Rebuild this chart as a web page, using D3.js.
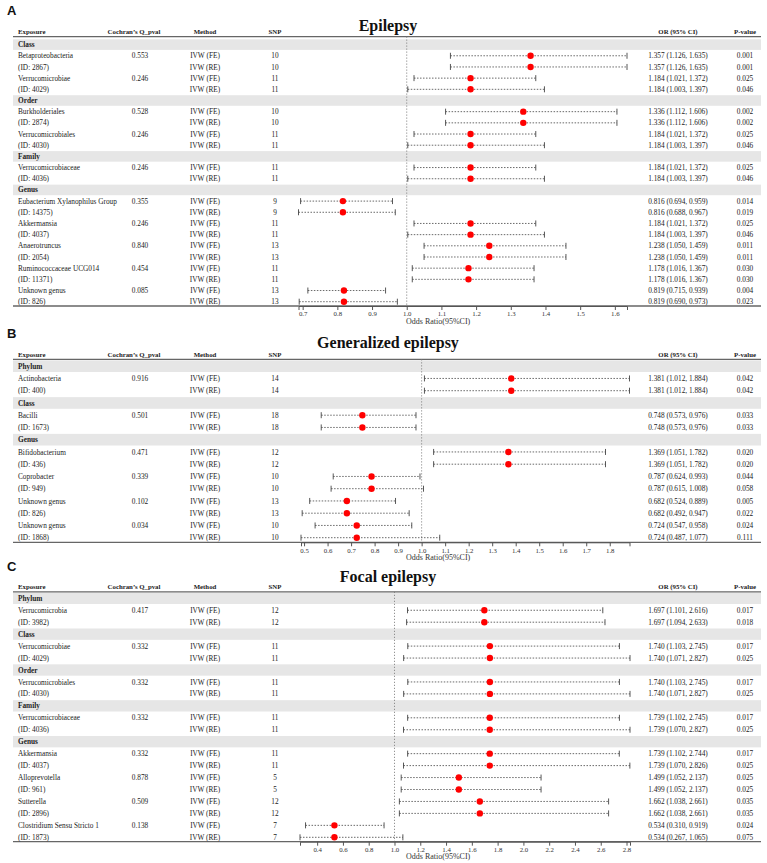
<!DOCTYPE html>
<html><head><meta charset="utf-8">
<script src="https://cdn.jsdelivr.net/npm/d3@7"></script>
<style>body{margin:0;background:#fff}svg{display:block}</style>
</head><body>
<svg id="chart" width="767" height="863"></svg>
<script>
// ---------- Panel A: Epilepsy ----------
const aGroups = ["Class","Class","Order","Order","Family","Genus","Genus","Genus","Genus","Genus"];
const aExposure = ["Betaproteobacteria","Verrucomicrobiae","Burkholderiales","Verrucomicrobiales","Verrucomicrobiaceae","Eubacterium Xylanophilus Group","Akkermansia","Anaerotruncus","Ruminococcaceae UCG014","Unknown genus"];
const aIds = [2867,4029,2874,4030,4036,14375,4037,2054,11371,826];
const aQ = [0.553,0.246,0.528,0.246,0.246,0.355,0.246,0.840,0.454,0.085];
const aSnp = [10,11,10,11,11,9,11,13,11,13];
const aOrFE = [1.357,1.184,1.336,1.184,1.184,0.816,1.184,1.238,1.178,0.819];
const aLoFE = [1.126,1.021,1.112,1.021,1.021,0.694,1.021,1.050,1.016,0.715];
const aHiFE = [1.635,1.372,1.606,1.372,1.372,0.959,1.372,1.459,1.367,0.939];
const aPFE  = [0.001,0.025,0.002,0.025,0.025,0.014,0.025,0.011,0.030,0.004];
const aOrRE = [1.357,1.184,1.336,1.184,1.184,0.816,1.184,1.238,1.178,0.819];
const aLoRE = [1.126,1.003,1.112,1.003,1.003,0.688,1.003,1.050,1.016,0.690];
const aHiRE = [1.635,1.397,1.606,1.397,1.397,0.967,1.397,1.459,1.367,0.973];
const aPRE  = [0.001,0.046,0.002,0.046,0.046,0.019,0.046,0.011,0.030,0.023];
const aTicks = [0.7,0.8,0.9,1.0,1.1,1.2,1.3,1.4,1.5,1.6];

// ---------- Panel B: Generalized epilepsy ----------
const bGroups = ["Phylum","Class","Genus","Genus","Genus","Genus"];
const bExposure = ["Actinobacteria","Bacilli","Bifidobacterium","Coprobacter","Unknown genus","Unknown genus"];
const bIds = [400,1673,436,949,826,1868];
const bQ = [0.916,0.501,0.471,0.339,0.102,0.034];
const bSnp = [14,18,12,10,13,10];
const bOrFE = [1.381,0.748,1.369,0.787,0.682,0.724];
const bLoFE = [1.012,0.573,1.051,0.624,0.524,0.547];
const bHiFE = [1.884,0.976,1.782,0.993,0.889,0.958];
const bPFE  = [0.042,0.033,0.020,0.044,0.005,0.024];
const bOrRE = [1.381,0.748,1.369,0.787,0.682,0.724];
const bLoRE = [1.012,0.573,1.051,0.615,0.492,0.487];
const bHiRE = [1.884,0.976,1.782,1.008,0.947,1.077];
const bPRE  = [0.042,0.033,0.020,0.058,0.022,0.111];
const bTicks = [0.5,0.6,0.7,0.8,0.9,1.0,1.1,1.2,1.3,1.4,1.5,1.6,1.7,1.8];

// ---------- Panel C: Focal epilepsy ----------
const cGroups = ["Phylum","Class","Order","Family","Genus","Genus","Genus","Genus"];
const cExposure = ["Verrucomicrobia","Verrucomicrobiae","Verrucomicrobiales","Verrucomicrobiaceae","Akkermansia","Alloprevotella","Sutterella","Clostridium Sensu Stricto 1"];
const cIds = [3982,4029,4030,4036,4037,961,2896,1873];
const cQ = [0.417,0.332,0.332,0.332,0.332,0.878,0.509,0.138];
const cSnp = [12,11,11,11,11,5,12,7];
const cOrFE = [1.697,1.740,1.740,1.739,1.739,1.499,1.662,0.534];
const cLoFE = [1.101,1.103,1.103,1.102,1.102,1.052,1.038,0.310];
const cHiFE = [2.616,2.745,2.745,2.745,2.744,2.137,2.661,0.919];
const cPFE  = [0.017,0.017,0.017,0.017,0.017,0.025,0.035,0.024];
const cOrRE = [1.697,1.740,1.740,1.739,1.739,1.499,1.662,0.534];
const cLoRE = [1.094,1.071,1.071,1.070,1.070,1.052,1.038,0.267];
const cHiRE = [2.633,2.827,2.827,2.827,2.826,2.137,2.661,1.065];
const cPRE  = [0.018,0.025,0.025,0.025,0.025,0.025,0.035,0.075];
const cTicks = [0.4,0.6,0.8,1.0,1.2,1.4,1.6,1.8,2.0,2.2,2.4,2.6,2.8];

const headers = ["Exposure","Cochran\u2019s Q_pval","Method","SNP","OR (95% CI)","P-value"];

function buildRows(groups, expo, ids, q, snp, orFE, loFE, hiFE, pFE, orRE, loRE, hiRE, pRE){
  const rows = [];
  let last = null;
  groups.forEach((g,i)=>{
    if(g!==last){ rows.push({header:true, label:g}); last=g; }
    rows.push({name:expo[i], q:q[i], method:"IVW (FE)", snp:snp[i], or:orFE[i], lo:loFE[i], hi:hiFE[i], p:pFE[i]});
    rows.push({name:"(ID: "+ids[i]+")", q:null, method:"IVW (RE)", snp:snp[i], or:orRE[i], lo:loRE[i], hi:hiRE[i], p:pRE[i]});
  });
  return rows;
}

const panels = [
  {letter:"A", title:"Epilepsy", ticks:aTicks, range:[298.5,627],
   rows:buildRows(aGroups,aExposure,aIds,aQ,aSnp,aOrFE,aLoFE,aHiFE,aPFE,aOrRE,aLoRE,aHiRE,aPRE),
   letterY:15, titleY:31, headerY:34.3, lineY:36.6, first:44.6, last:301.7, bottom:306},
  {letter:"B", title:"Generalized epilepsy", ticks:bTicks, range:[301,629.5],
   rows:buildRows(bGroups,bExposure,bIds,bQ,bSnp,bOrFE,bLoFE,bHiFE,bPFE,bOrRE,bLoRE,bHiRE,bPRE),
   letterY:338, titleY:348, headerY:356.8, lineY:359.4, first:366.2, last:537.7, bottom:542.3},
  {letter:"C", title:"Focal epilepsy", ticks:cTicks, range:[300,630],
   rows:buildRows(cGroups,cExposure,cIds,cQ,cSnp,cOrFE,cLoFE,cHiFE,cPFE,cOrRE,cLoRE,cHiRE,cPRE),
   letterY:570.5, titleY:582, headerY:589.3, lineY:591.8, first:598.3, last:837.3, bottom:841.7}
];

const svg = d3.select("#chart");
const serif = "'Liberation Serif','Times New Roman',serif";
const f3 = d3.format(".3f"), f1 = d3.format(".1f");
const bandX0 = 13, bandX1 = 761;
const col = {expo:18, q:140, qh:134, method:205, snp:275, or:678, p:745};

panels.forEach(P=>{
  const g = svg.append("g");
  const n = P.rows.length;
  const y = d3.scaleLinear().domain([0,n-1]).range([P.first,P.last]);
  const rowH = (P.last-P.first)/(n-1);
  const data = P.rows.filter(r=>!r.header);
  const x = d3.scaleLinear()
    .domain([d3.min(data,d=>d.lo), d3.max(data,d=>d.hi)])
    .range(P.range);

  g.append("text").attr("x",7).attr("y",P.letterY).text(P.letter)
    .attr("font-family","'Liberation Sans',Arial,sans-serif").attr("font-weight","bold").attr("font-size",13).attr("fill","#111");
  g.append("text").attr("x",388).attr("y",P.titleY).attr("text-anchor","middle").text(P.title)
    .attr("font-family",serif).attr("font-weight","bold").attr("font-size",16).attr("fill","#111");

  const hx = [col.expo, col.qh, col.method, col.snp, col.or, col.p];
  const ha = ["start","middle","middle","middle","middle","middle"];
  headers.forEach((h,i)=>{
    g.append("text").attr("x",hx[i]).attr("y",P.headerY).attr("text-anchor",ha[i]).text(h)
      .attr("font-family",serif).attr("font-weight","bold").attr("font-size",6.8).attr("fill","#222");
  });

  // group bands
  P.rows.forEach((r,i)=>{
    if(r.header){
      g.append("rect").attr("x",bandX0).attr("width",bandX1-bandX0)
        .attr("y",y(i)-rowH/2+0.3).attr("height",rowH-0.6).attr("fill","#e6e6e6");
      g.append("text").attr("x",col.expo).attr("y",y(i)).attr("dy","0.35em").text(r.label)
        .attr("font-family",serif).attr("font-weight","bold").attr("font-size",7.3).attr("fill","#222");
    }
  });

  // top and bottom lines
  g.append("line").attr("x1",bandX0).attr("x2",bandX1).attr("y1",P.lineY).attr("y2",P.lineY)
    .attr("stroke","#666").attr("stroke-width",1.3);
  g.append("line").attr("x1",bandX0).attr("x2",bandX1).attr("y1",P.bottom).attr("y2",P.bottom)
    .attr("stroke","#666").attr("stroke-width",1.3);

  // reference line at OR = 1
  g.append("line").attr("x1",x(1)).attr("x2",x(1)).attr("y1",P.lineY).attr("y2",P.bottom)
    .attr("stroke","#777").attr("stroke-width",1).attr("stroke-dasharray","1,2");

  // axis
  const ax = g.append("g").attr("transform",`translate(0,${P.bottom})`)
    .call(d3.axisBottom(x).tickValues(P.ticks).tickFormat(f1).tickSize(4).tickSizeOuter(4).tickPadding(1.5));
  ax.select(".domain").attr("stroke","#555");
  ax.selectAll(".tick line").attr("stroke","#555");
  ax.selectAll("text").attr("font-family",serif).attr("font-size",6.8).attr("fill","#333");
  g.append("text").attr("x",406).attr("y",P.bottom+17.5).text("Odds Ratio(95%CI)")
    .attr("font-family",serif).attr("font-size",8).attr("fill","#333");

  // rows
  P.rows.forEach((r,i)=>{
    if(r.header) return;
    const yy = y(i);
    g.append("line").attr("x1",x(r.lo)).attr("x2",x(r.hi)).attr("y1",yy).attr("y2",yy)
      .attr("stroke","#444").attr("stroke-width",0.8).attr("stroke-dasharray","1.5,1.5");
    [r.lo,r.hi].forEach(v=>{
      g.append("line").attr("x1",x(v)).attr("x2",x(v)).attr("y1",yy-3).attr("y2",yy+3)
        .attr("stroke","#444").attr("stroke-width",0.9);
    });
    g.append("circle").attr("cx",x(r.or)).attr("cy",yy).attr("r",3.2).attr("fill","#ff0000");

    const t = (xx,anchor,txt)=>g.append("text").attr("x",xx).attr("y",yy).attr("dy","0.35em")
      .attr("text-anchor",anchor).text(txt).attr("font-family",serif).attr("font-size",7.3).attr("fill","#222");
    t(col.expo,"start",r.name);
    if(r.q!==null) t(col.q,"middle",f3(r.q));
    t(col.method,"middle",r.method);
    t(col.snp,"middle",r.snp);
    t(col.or,"middle",`${f3(r.or)} (${f3(r.lo)}, ${f3(r.hi)})`);
    t(col.p,"middle",f3(r.p));
  });
});
</script>
</body></html>
